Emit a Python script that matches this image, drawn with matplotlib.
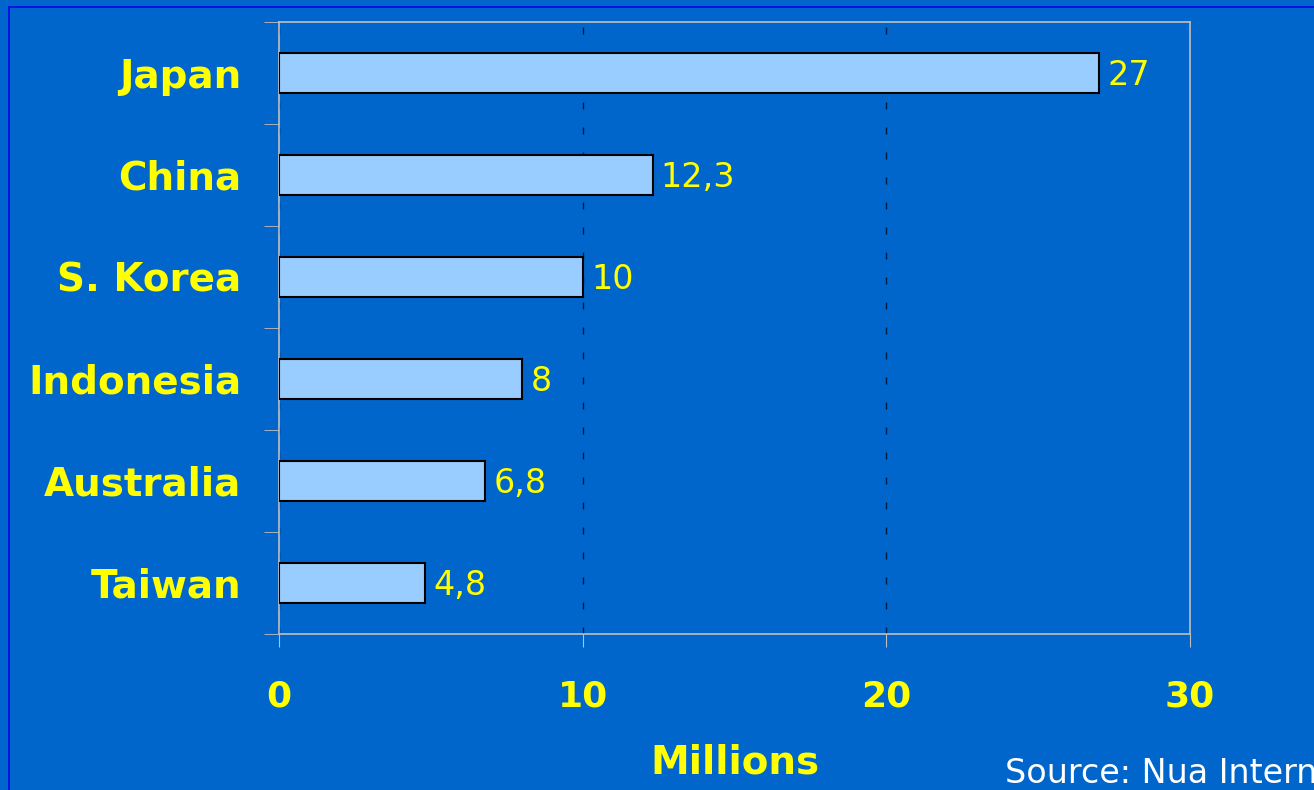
import matplotlib
matplotlib.use("Agg")
import matplotlib.pyplot as plt
from matplotlib.patches import Rectangle

# data
pays = ["Japan", "China", "S. Korea", "Indonesia", "Australia", "Taiwan"]
millions = [27, 12.3, 10, 8, 6.8, 4.8]
etiquettes = ["27", "12,3", "10", "8", "6,8", "4,8"]
x_ticks = [0, 10, 20, 30]

fond = "#0066CC"
jaune = "#FFFF00"
barre = "#99CCFF"
gris = "#BFBFBF"

plt.rcParams["font.family"] = ["DejaVu Sans"]

fig = plt.figure(figsize=(13.14, 7.9), dpi=100, facecolor=fond)
ax = fig.add_axes([279/1314, 1-634/790, (1190-279)/1314, (634-22)/790])
ax.set_facecolor(fond)

pos = list(range(len(pays)))
ax.barh(pos, millions, height=0.4, color=barre, edgecolor="black", linewidth=1.5, zorder=3)
ax.set_ylim(len(pays)-0.5, -0.5)
ax.set_xlim(0, 30)

for p, v, t in zip(pos, millions, etiquettes):
    ax.annotate(t, xy=(v, p), xytext=(6, -2), textcoords="offset points",
                va="center", ha="left", color=jaune, fontsize=24, zorder=4)

ax.set_yticks(pos)
ax.set_yticklabels(pays, fontsize=28, fontweight="bold", color=jaune)
ax.set_yticks([p - 0.5 for p in pos] + [len(pays)-0.5], minor=True)
ax.tick_params(axis="y", which="major", length=0, pad=27)
ax.tick_params(axis="y", which="minor", length=11, color=gris, direction="out")

ax.set_xticks(x_ticks)
ax.set_xticklabels([str(v) for v in x_ticks], fontsize=26, fontweight="bold", color=jaune)
ax.tick_params(axis="x", which="major", length=9.5, color=gris, pad=23)

ax.grid(axis="x", color="#001a40", linestyle=(0, (5, 13)), linewidth=1.0, zorder=1)
ax.set_axisbelow(True)

for s in ax.spines.values():
    s.set_color(gris)
    s.set_linewidth(1.2)

ax.set_xlabel("Millions", fontsize=28, fontweight="bold", color=jaune, labelpad=22)

# cadre bleu
fig.patches.append(Rectangle((9/1314, -0.1), 1.2, 1-7/790+0.1, transform=fig.transFigure,
                             fill=False, edgecolor="#0000EE", linewidth=1.2, figure=fig))

fig.text(1005/1314, 7/790, "Source: Nua Internet", color="white", fontsize=24,
         ha="left", va="baseline")

fig.savefig("out.png", dpi=100, facecolor=fond)
